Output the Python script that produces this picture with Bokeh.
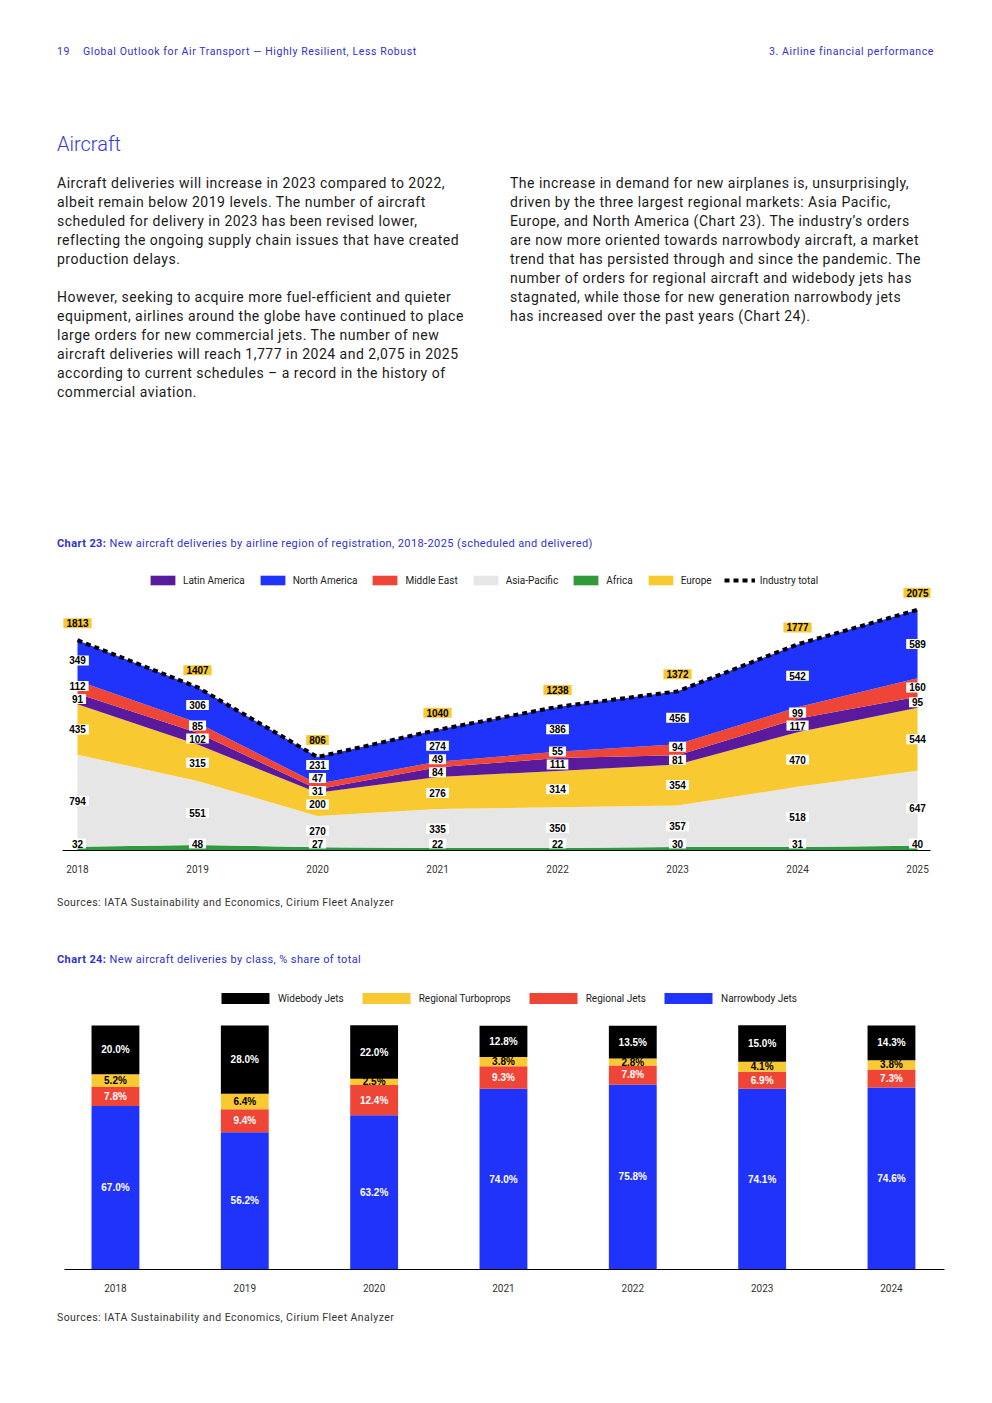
from bokeh.plotting import figure
from bokeh.models import ColumnDataSource, Legend, LegendItem, Div
from bokeh.layouts import column
from bokeh.embed import file_html
from bokeh.resources import INLINE
from bokeh.core.properties import value

# ---------------- Chart 23 data ----------------
years = [2018, 2019, 2020, 2021, 2022, 2023, 2024, 2025]
africa = [32, 48, 27, 22, 22, 30, 31, 40]
asia_pacific = [794, 551, 270, 335, 350, 357, 518, 647]
europe = [435, 315, 200, 276, 314, 354, 470, 544]
latin_america = [91, 102, 31, 84, 111, 81, 117, 95]
middle_east = [112, 85, 47, 49, 55, 94, 99, 160]
north_america = [349, 306, 231, 274, 386, 456, 542, 589]
industry_total = [1813, 1407, 806, 1040, 1238, 1372, 1777, 2075]

# ---------------- Chart 24 data ----------------
class_years = ["2018", "2019", "2020", "2021", "2022", "2023", "2024"]
narrowbody = [67.0, 56.2, 63.2, 74.0, 75.8, 74.1, 74.6]
regional_jets = [7.8, 9.4, 12.4, 9.3, 7.8, 6.9, 7.3]
regional_turboprops = [5.2, 6.4, 2.5, 3.8, 2.8, 4.1, 3.8]
widebody = [20.0, 28.0, 22.0, 12.8, 13.5, 15.0, 14.3]

BLUE = "#1f33fa"
RED = "#ef4536"
YELLOW = "#f9c931"
PURPLE = "#5a1a9e"
GREY = "#e6e6e6"
GREEN = "#2e9a3a"
TXT_BLUE = "#3030d4"
LABEL_FONT = value("Liberation Sans")
UI_FONT = "Roboto, 'Liberation Sans', sans-serif"

# ---------------- Top text block ----------------
left_lines = [
    "Aircraft deliveries will increase in 2023 compared to 2022,",
    "albeit remain below 2019 levels. The number of aircraft",
    "scheduled for delivery in 2023 has been revised lower,",
    "reflecting the ongoing supply chain issues that have created",
    "production delays.",
    "&nbsp;",
    "However, seeking to acquire more fuel-efficient and quieter",
    "equipment, airlines around the globe have continued to place",
    "large orders for new commercial jets. The number of new",
    "aircraft deliveries will reach 1,777 in 2024 and 2,075 in 2025",
    "according to current schedules \u2013 a record in the history of",
    "commercial aviation.",
]
right_lines = [
    "The increase in demand for new airplanes is, unsurprisingly,",
    "driven by the three largest regional markets: Asia Pacific,",
    "Europe, and North America (Chart 23). The industry\u2019s orders",
    "are now more oriented towards narrowbody aircraft, a market",
    "trend that has persisted through and since the pandemic. The",
    "number of orders for regional aircraft and widebody jets has",
    "stagnated, while those for new generation narrowbody jets",
    "has increased over the past years (Chart 24).",
]

para_style = (f"position:absolute;font-family:{UI_FONT};font-size:14px;line-height:19px;"
              "letter-spacing:0.5px;color:#1a1a1a;white-space:nowrap;")
hdr_style = (f"position:absolute;top:46px;font-size:10.5px;line-height:12px;color:{TXT_BLUE};"
             "letter-spacing:0.6px;white-space:nowrap;")
html1 = f"""
<div style="position:relative;width:984px;height:565px;font-family:{UI_FONT};">
  <div style="{hdr_style}left:57px;">19</div>
  <div style="{hdr_style}left:83px;">Global Outlook for Air Transport \u2014 Highly Resilient, Less Robust</div>
  <div style="{hdr_style}right:50px;">3. Airline financial performance</div>
  <div style="position:absolute;left:57px;top:132px;font-size:20px;line-height:24px;color:#3838d8;font-weight:300;white-space:nowrap;">Aircraft</div>
  <div style="{para_style}left:57px;top:173.5px;">{'<br>'.join(left_lines)}</div>
  <div style="{para_style}left:510px;top:173.5px;">{'<br>'.join(right_lines)}</div>
  <div style="position:absolute;left:57px;top:537px;font-size:11px;line-height:13px;letter-spacing:0.4px;color:{TXT_BLUE};white-space:nowrap;"><b>Chart 23:</b> New aircraft deliveries by airline region of registration, 2018-2025 (scheduled and delivered)</div>
</div>
"""
div1 = Div(text=html1, width=984, height=565, margin=0)

# ---------------- Chart 23 ----------------
src1 = ColumnDataSource(dict(
    year=years, africa=africa, asia_pacific=asia_pacific, europe=europe,
    latin_america=latin_america, middle_east=middle_east,
    north_america=north_america, total=industry_total,
))

Y_END = 2414
p1 = figure(width=984, height=320, x_range=(2017.875, 2025.108), y_range=(0, Y_END),
            output_backend="svg", toolbar_location=None,
            min_border_left=62, min_border_right=54, min_border_top=5, min_border_bottom=35)
p1.outline_line_color = None
p1.grid.visible = False
p1.yaxis.visible = False
p1.background_fill_color = "white"

stack_names = ["africa", "asia_pacific", "europe", "latin_america", "middle_east", "north_america"]
stack_colors = [GREEN, GREY, YELLOW, PURPLE, RED, BLUE]
areas = p1.varea_stack(stackers=stack_names, x="year", color=stack_colors, source=src1)
r_total = p1.line("year", "total", source=src1, line_color="black", line_width=4, line_dash="5 4")

# value labels, de-overlapped vertically (in data units)
px_per_unit = 280 / Y_END
min_off = 7 / px_per_unit
gap = 13 / px_per_unit
series = [africa, asia_pacific, europe, latin_america, middle_east, north_america]
lx, ly, lt = [], [], []
for i, yr in enumerate(years):
    base = 0
    prev = None
    for s in series:
        v = s[i]
        mid = base + v / 2
        c = max(mid, min_off) if prev is None else max(mid, prev + gap)
        lx.append(yr)
        ly.append(c)
        lt.append(str(v))
        prev = c
        base += v
p1.text(x="x", y="y", text="t", source=ColumnDataSource(dict(x=lx, y=ly, t=lt)),
        text_font=LABEL_FONT, text_font_style="bold", text_font_size="10px",
        text_color="black", text_align="center", text_baseline="middle",
        background_fill_color="white",
        padding=dict(left=3, right=3, top=1, bottom=1))
tot_off = 17 / px_per_unit
p1.text(x="x", y="y", text="t",
        source=ColumnDataSource(dict(x=years, y=[t + tot_off for t in industry_total],
                                     t=[str(t) for t in industry_total])),
        text_font=LABEL_FONT, text_font_style="bold", text_font_size="10px",
        text_color="black", text_align="center", text_baseline="middle",
        background_fill_color=YELLOW,
        padding=dict(left=3, right=3, top=1, bottom=1))

p1.xaxis.ticker = years
p1.xaxis.major_tick_line_color = None
p1.xaxis.minor_tick_line_color = None
p1.xaxis.axis_line_color = "black"
p1.xaxis.axis_line_width = 1
p1.xaxis.major_label_text_font_size = "10px"
p1.xaxis.major_label_text_font = "Roboto"
p1.xaxis.major_label_text_color = "#333333"
p1.xaxis.major_label_standoff = 8

area_map = dict(zip(stack_names, areas))
leg1 = Legend(items=[
    LegendItem(label="Latin America", renderers=[area_map["latin_america"]]),
    LegendItem(label="North America", renderers=[area_map["north_america"]]),
    LegendItem(label="Middle East", renderers=[area_map["middle_east"]]),
    LegendItem(label="Asia-Pacific", renderers=[area_map["asia_pacific"]]),
    LegendItem(label="Africa", renderers=[area_map["africa"]]),
    LegendItem(label="Europe", renderers=[area_map["europe"]]),
    LegendItem(label="Industry total", renderers=[r_total]),
], orientation="horizontal", location=(85, 264), glyph_width=31, glyph_height=12,
    label_height=12, label_standoff=5, spacing=12, padding=0, margin=0,
    border_line_color=None, background_fill_alpha=0,
    label_text_font_size="10px", label_text_font="Roboto", label_text_color="#222222")
p1.add_layout(leg1)

# ---------------- Middle text ----------------
src_style = ("position:absolute;left:57px;top:12px;font-size:10.5px;line-height:12px;"
             "letter-spacing:0.45px;color:#333333;white-space:nowrap;")
html2 = f"""
<div style="position:relative;width:984px;height:100px;font-family:{UI_FONT};">
  <div style="{src_style}">Sources: IATA Sustainability and Economics, Cirium Fleet Analyzer</div>
  <div style="position:absolute;left:57px;top:67.5px;font-size:11px;line-height:13px;letter-spacing:0.4px;color:{TXT_BLUE};white-space:nowrap;"><b>Chart 24:</b> New aircraft deliveries by class, % share of total</div>
</div>
"""
div2 = Div(text=html2, width=984, height=100, margin=0)

# ---------------- Chart 24 ----------------
xs = list(range(len(class_years)))
src2 = ColumnDataSource(dict(x=xs, nb=narrowbody, rj=regional_jets, rt=regional_turboprops, wb=widebody))
p2 = figure(width=984, height=315, x_range=(-0.394, 6.41), y_range=(0, 114.3),
            output_backend="svg", toolbar_location=None,
            min_border_left=64, min_border_right=40, min_border_top=5, min_border_bottom=31)
p2.outline_line_color = None
p2.grid.visible = False
p2.yaxis.visible = False
bars = p2.vbar_stack(["nb", "rj", "rt", "wb"], x="x", width=0.37, color=[BLUE, RED, YELLOW, "black"],
                     line_color=None, source=src2)

bx, by, bt, bc = [], [], [], []
cls_series = [(narrowbody, "white"), (regional_jets, "white"), (regional_turboprops, "black"), (widebody, "white")]
for i in xs:
    base = 0
    for s, col in cls_series:
        v = s[i]
        bx.append(i)
        by.append(base + v / 2)
        bt.append(f"{v:.1f}%")
        bc.append(col)
        base += v
p2.text(x="x", y="y", text="t", text_color="c",
        source=ColumnDataSource(dict(x=bx, y=by, t=bt, c=bc)),
        text_font=LABEL_FONT, text_font_style="bold", text_font_size="10px",
        text_align="center", text_baseline="middle")

p2.xaxis.ticker = xs
p2.xaxis.major_label_overrides = {i: y for i, y in zip(xs, class_years)}
p2.xaxis.major_tick_line_color = None
p2.xaxis.minor_tick_line_color = None
p2.xaxis.axis_line_color = "black"
p2.xaxis.major_label_text_font_size = "10px"
p2.xaxis.major_label_text_font = "Roboto"
p2.xaxis.major_label_text_color = "#333333"
p2.xaxis.major_label_standoff = 8

leg2 = Legend(items=[
    LegendItem(label="Widebody Jets", renderers=[bars[3]]),
    LegendItem(label="Regional Turboprops", renderers=[bars[2]]),
    LegendItem(label="Regional Jets", renderers=[bars[1]]),
    LegendItem(label="Narrowbody Jets", renderers=[bars[0]]),
], orientation="horizontal", location=(151, 264), glyph_width=60, glyph_height=14,
    label_height=14, label_standoff=3, spacing=12, padding=0, margin=0,
    border_line_color=None, background_fill_alpha=0,
    label_text_font_size="10px", label_text_font="Roboto", label_text_color="#222222")
p2.add_layout(leg2)

html3 = f"""
<div style="position:relative;width:984px;height:40px;font-family:{UI_FONT};">
  <div style="{src_style}">Sources: IATA Sustainability and Economics, Cirium Fleet Analyzer</div>
</div>
"""
div3 = Div(text=html3, width=984, height=40, margin=0)

layout = column(div1, column(p1), div2, column(p2), div3, spacing=0)
open("out.html", "w").write(file_html(layout, INLINE))
